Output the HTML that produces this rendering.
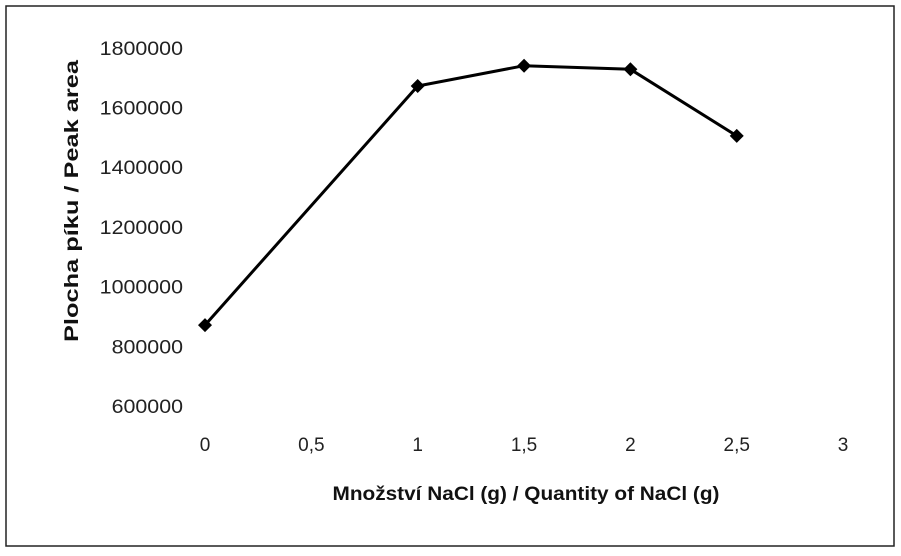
<!DOCTYPE html>
<html><head><meta charset="utf-8"><style>
body{margin:0;background:#fff}
svg{display:block;font-family:"Liberation Sans",Arial,sans-serif}
</style></head><body>
<svg id="c" width="901" height="556">
<rect x="6" y="6" width="888" height="540" fill="#fff" stroke="#222" stroke-width="1.5"/>
<text x="78" y="201" transform="rotate(-90 78 201)" text-anchor="middle" font-size="19" font-weight="bold" fill="#111" textLength="282" lengthAdjust="spacingAndGlyphs">Plocha píku / Peak area</text>
<text x="526" y="500" text-anchor="middle" font-size="19" font-weight="bold" fill="#111" textLength="387" lengthAdjust="spacingAndGlyphs">Množství NaCl (g) / Quantity of NaCl (g)</text>
<g id="g"></g>
</svg>
<script>
const xVals=[0,1,1.5,2,2.5];
const yVals=[871000,1672000,1740000,1728000,1505000];
const yTicks=[600000,800000,1000000,1200000,1400000,1600000,1800000];
const xTicks=[0,0.5,1,1.5,2,2.5,3];
const xTickLabels=["0","0,5","1","1,5","2","2,5","3"];
const X=v=>205+v*212.7;
const Y=v=>406-(v-600000)/200000*59.7;
const g=document.getElementById('g');
const NS='http://www.w3.org/2000/svg';
function mk(t,a){const e=document.createElementNS(NS,t);for(const k in a)e.setAttribute(k,a[k]);g.appendChild(e);return e;}
yTicks.forEach(v=>{const t=mk('text',{x:183,y:Y(v)+7,'text-anchor':'end','font-size':'19',fill:'#222',textLength:String(String(v).length*11.9),lengthAdjust:'spacingAndGlyphs'});t.textContent=v;

});
xTicks.forEach((v,i)=>{const t=mk('text',{x:X(v),y:451,'text-anchor':'middle','font-size':'19',fill:'#222'});t.textContent=xTickLabels[i];

});
const pl=mk('polyline',{points:xVals.map((x,i)=>X(x)+','+Y(yVals[i])).join(' '),fill:'none',stroke:'#000','stroke-width':'3'});


xVals.forEach((x,i)=>{const cx=X(x),cy=Y(yVals[i]);const m=mk('polygon',{points:`${cx},${cy-7} ${cx+7},${cy} ${cx},${cy+7} ${cx-7},${cy}`,fill:'#000'});

});
</script>
</body></html>
